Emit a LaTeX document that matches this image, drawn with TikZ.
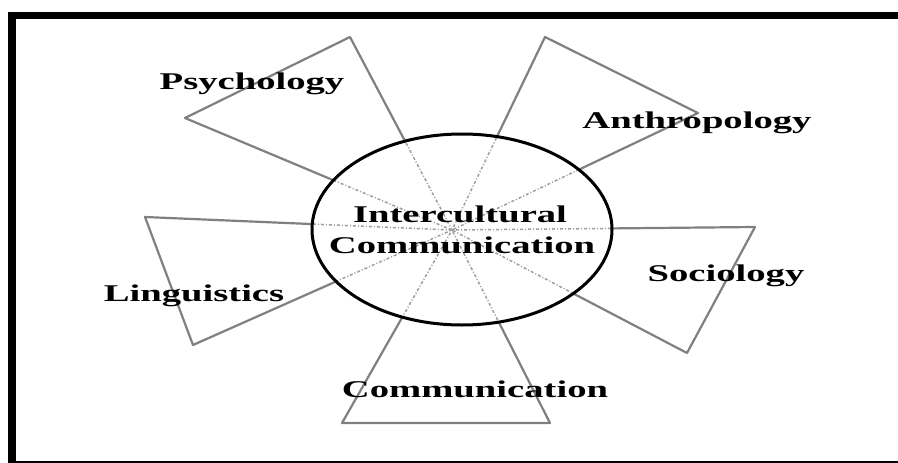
\documentclass[tikz,border=0pt]{standalone}
\usepackage{fontspec}
\setmainfont{Liberation Serif}
\newcommand{\wide}[1]{\scalebox{1.61}[1]{#1}}

\begin{document}
\begin{tikzpicture}[x=1pt,y=-1pt]
\tikzset{petal/.style={draw=gray, line width=2.2pt, line join=round},
  inner/.style={draw=gray!75, line width=1.5pt, dash pattern=on 3pt off 2pt on 1pt off 2pt},
  lbl/.style={inner sep=0pt, font=\fontsize{24}{29}\selectfont\bfseries}}
\useasboundingbox (0,0) rectangle (898,463);
\clip (0,0) rectangle (898,463);
\fill[white] (0,0) rectangle (898,463);
\draw[line width=7.5pt] (12,15.5) rectangle (920,465);
\coordinate (O) at (452,230);
% outer corners of the five petals
\coordinate (psyA) at (350,37);
\coordinate (psyB) at (185,118);
\coordinate (antA) at (545,37);
\coordinate (antB) at (698,113);
\coordinate (socA) at (755,227);
\coordinate (socB) at (687,353);
\coordinate (linA) at (145,217);
\coordinate (linB) at (193,345);
\coordinate (comA) at (342,423);
\coordinate (comB) at (550,423);
\foreach \p in {psy,ant,soc,lin,com}
  \draw[petal] (O) -- (\p A) -- (\p B) -- cycle;
% the hub
\fill[white] (462,229.5) ellipse (150 and 95.5);
\begin{scope}
\clip (462,229.5) ellipse (150 and 95.5);
\foreach \p in {psy,ant,soc,lin,com}
  \draw[inner] (\p A) -- (O) -- (\p B);
\end{scope}
\draw[line width=3pt] (462,229.5) ellipse (150 and 95.5);
\node[lbl, anchor=base] (ic1) at (460,222) {\wide{Intercultural}};
\node[lbl, anchor=base] (ic2) at (462,253) {\wide{Communication}};
% labels
\node[lbl, anchor=base] (psy) at (252,89) {\wide{Psychology}};
\node[lbl, anchor=base] (ant) at (697,128) {\wide{Anthropology}};
\node[lbl, anchor=base] (soc) at (726,281) {\wide{Sociology}};
\node[lbl, anchor=base] (lin) at (194,301) {\wide{Linguistics}};
\node[lbl, anchor=base] (com) at (475,397) {\wide{Communication}};
\end{tikzpicture}
\end{document}
